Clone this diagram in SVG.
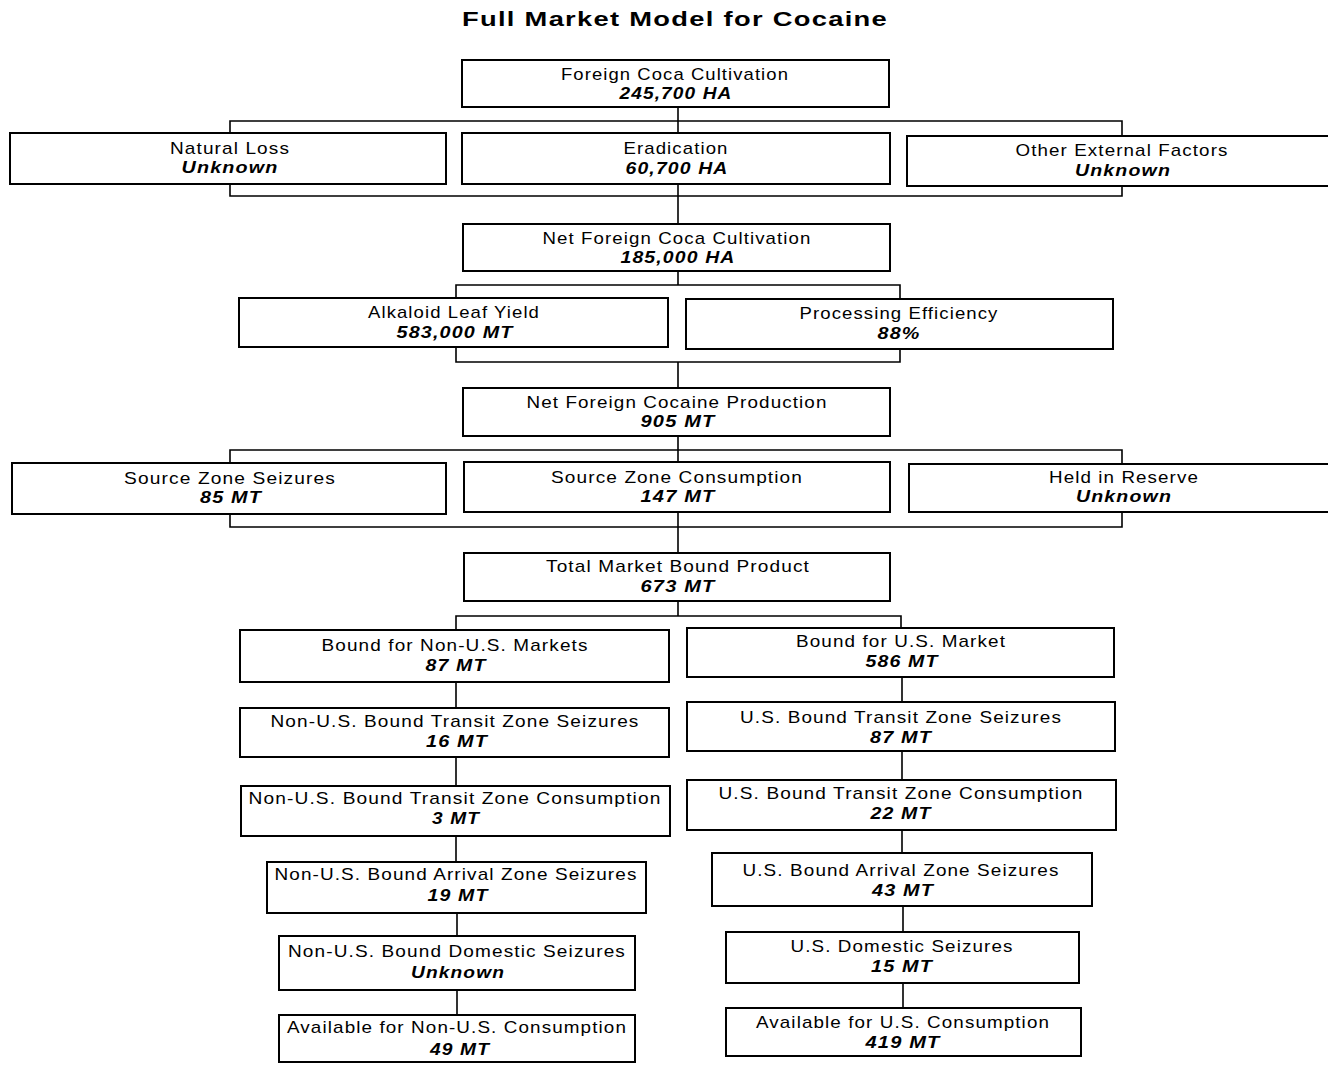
<svg xmlns="http://www.w3.org/2000/svg" width="1328" height="1065" viewBox="0 0 1328 1065">
<style>
.box{fill:#fff;stroke:#000;stroke-width:2}
.c{fill:none;stroke:#000;stroke-width:1.6}
text{font-family:"Liberation Sans",Arial,sans-serif;font-size:17px;letter-spacing:1px;text-anchor:middle;fill:#000}
.v{font-weight:bold;font-style:italic;font-size:17px}
.title{font-weight:bold;font-size:21px}
</style>
<rect width="1328" height="1065" fill="#fff"/>
<text class="title" x="675" y="26" textLength="426" lengthAdjust="spacingAndGlyphs">Full Market Model for Cocaine</text>
<g id="connectors">
<path class="c" d="M678,107 V225"/>
<path class="c" d="M230,133 V121 H1122 V136 M230,184 V196 H1122 V186"/>
<path class="c" d="M678,271 V285 M456,298 V285 H900 V299 M456,347 V362 H900 V349 M678,362 V388"/>
<path class="c" d="M678,436 V553"/>
<path class="c" d="M230,463 V450 H1122 V464 M230,514 V527 H1122 V512"/>
<path class="c" d="M678,601 V616 M456,630 V616 H901 V628"/>
<path class="c" d="M456,682 V708 M456,757 V786 M456,836 V862 M457,913 V936 M457,990 V1015"/>
<path class="c" d="M902,677 V702 M902,751 V780 M902,830 V853 M903,906 V932 M903,983 V1008"/>
</g>
<g id="foreign-coca"><rect class="box" x="462" y="60" width="427" height="47"/><text x="675" y="80" textLength="228" lengthAdjust="spacingAndGlyphs">Foreign Coca Cultivation</text><text class="v" x="676" y="99" textLength="113" lengthAdjust="spacingAndGlyphs">245,700 HA</text></g>
<g id="natural-loss"><rect class="box" x="10" y="133" width="436" height="51"/><text x="230" y="154" textLength="120" lengthAdjust="spacingAndGlyphs">Natural Loss</text><text class="v" x="230" y="173" textLength="97" lengthAdjust="spacingAndGlyphs">Unknown</text></g>
<g id="eradication"><rect class="box" x="462" y="133" width="428" height="51"/><text x="676" y="154" textLength="105" lengthAdjust="spacingAndGlyphs">Eradication</text><text class="v" x="677" y="174" textLength="103" lengthAdjust="spacingAndGlyphs">60,700 HA</text></g>
<g id="other-external"><rect class="box" x="907" y="136" width="430" height="50"/><text x="1122" y="156" textLength="213" lengthAdjust="spacingAndGlyphs">Other External Factors</text><text class="v" x="1123" y="176" textLength="96" lengthAdjust="spacingAndGlyphs">Unknown</text></g>
<g id="net-coca"><rect class="box" x="463" y="224" width="427" height="47"/><text x="677" y="244" textLength="269" lengthAdjust="spacingAndGlyphs">Net Foreign Coca Cultivation</text><text class="v" x="678" y="263" textLength="115" lengthAdjust="spacingAndGlyphs">185,000 HA</text></g>
<g id="alkaloid"><rect class="box" x="239" y="298" width="429" height="49"/><text x="454" y="318" textLength="172" lengthAdjust="spacingAndGlyphs">Alkaloid Leaf Yield</text><text class="v" x="455" y="338" textLength="117" lengthAdjust="spacingAndGlyphs">583,000 MT</text></g>
<g id="processing"><rect class="box" x="686" y="299" width="427" height="50"/><text x="899" y="319" textLength="199" lengthAdjust="spacingAndGlyphs">Processing Efficiency</text><text class="v" x="899" y="339" textLength="43" lengthAdjust="spacingAndGlyphs">88%</text></g>
<g id="net-cocaine"><rect class="box" x="463" y="388" width="427" height="48"/><text x="677" y="408" textLength="301" lengthAdjust="spacingAndGlyphs">Net Foreign Cocaine Production</text><text class="v" x="678" y="427" textLength="75" lengthAdjust="spacingAndGlyphs">905 MT</text></g>
<g id="source-seizures"><rect class="box" x="12" y="463" width="434" height="51"/><text x="230" y="484" textLength="212" lengthAdjust="spacingAndGlyphs">Source Zone Seizures</text><text class="v" x="231" y="503" textLength="62" lengthAdjust="spacingAndGlyphs">85 MT</text></g>
<g id="source-consumption"><rect class="box" x="464" y="462" width="426" height="50"/><text x="677" y="483" textLength="252" lengthAdjust="spacingAndGlyphs">Source Zone Consumption</text><text class="v" x="678" y="502" textLength="75" lengthAdjust="spacingAndGlyphs">147 MT</text></g>
<g id="held-reserve"><rect class="box" x="909" y="464" width="428" height="48"/><text x="1124" y="483" textLength="150" lengthAdjust="spacingAndGlyphs">Held in Reserve</text><text class="v" x="1124" y="502" textLength="96" lengthAdjust="spacingAndGlyphs">Unknown</text></g>
<g id="total-market"><rect class="box" x="464" y="553" width="426" height="48"/><text x="678" y="572" textLength="264" lengthAdjust="spacingAndGlyphs">Total Market Bound Product</text><text class="v" x="678" y="592" textLength="75" lengthAdjust="spacingAndGlyphs">673 MT</text></g>
<g id="non-us-markets"><rect class="box" x="240" y="630" width="429" height="52"/><text x="455" y="651" textLength="267" lengthAdjust="spacingAndGlyphs">Bound for Non-U.S. Markets</text><text class="v" x="456" y="671" textLength="61" lengthAdjust="spacingAndGlyphs">87 MT</text></g>
<g id="us-market"><rect class="box" x="687" y="628" width="427" height="49"/><text x="901" y="647" textLength="210" lengthAdjust="spacingAndGlyphs">Bound for U.S. Market</text><text class="v" x="902" y="667" textLength="73" lengthAdjust="spacingAndGlyphs">586 MT</text></g>
<g id="non-us-transit-seizures"><rect class="box" x="240" y="708" width="429" height="49"/><text x="455" y="727" textLength="369" lengthAdjust="spacingAndGlyphs">Non-U.S. Bound Transit Zone Seizures</text><text class="v" x="457" y="747" textLength="62" lengthAdjust="spacingAndGlyphs">16 MT</text></g>
<g id="us-transit-seizures"><rect class="box" x="687" y="702" width="428" height="49"/><text x="901" y="723" textLength="322" lengthAdjust="spacingAndGlyphs">U.S. Bound Transit Zone Seizures</text><text class="v" x="901" y="743" textLength="62" lengthAdjust="spacingAndGlyphs">87 MT</text></g>
<g id="non-us-transit-consumption"><rect class="box" x="241" y="786" width="429" height="50"/><text x="455" y="804" textLength="413" lengthAdjust="spacingAndGlyphs">Non-U.S. Bound Transit Zone Consumption</text><text class="v" x="456" y="824" textLength="48" lengthAdjust="spacingAndGlyphs">3 MT</text></g>
<g id="us-transit-consumption"><rect class="box" x="687" y="780" width="429" height="50"/><text x="901" y="799" textLength="365" lengthAdjust="spacingAndGlyphs">U.S. Bound Transit Zone Consumption</text><text class="v" x="901" y="819" textLength="61" lengthAdjust="spacingAndGlyphs">22 MT</text></g>
<g id="non-us-arrival"><rect class="box" x="267" y="862" width="379" height="51"/><text x="456" y="880" textLength="363" lengthAdjust="spacingAndGlyphs">Non-U.S. Bound Arrival Zone Seizures</text><text class="v" x="458" y="901" textLength="61" lengthAdjust="spacingAndGlyphs">19 MT</text></g>
<g id="us-arrival"><rect class="box" x="712" y="853" width="380" height="53"/><text x="901" y="876" textLength="317" lengthAdjust="spacingAndGlyphs">U.S. Bound Arrival Zone Seizures</text><text class="v" x="903" y="896" textLength="62" lengthAdjust="spacingAndGlyphs">43 MT</text></g>
<g id="non-us-domestic"><rect class="box" x="279" y="936" width="356" height="54"/><text x="457" y="957" textLength="338" lengthAdjust="spacingAndGlyphs">Non-U.S. Bound Domestic Seizures</text><text class="v" x="458" y="978" textLength="94" lengthAdjust="spacingAndGlyphs">Unknown</text></g>
<g id="us-domestic"><rect class="box" x="726" y="932" width="353" height="51"/><text x="902" y="952" textLength="223" lengthAdjust="spacingAndGlyphs">U.S. Domestic Seizures</text><text class="v" x="902" y="972" textLength="62" lengthAdjust="spacingAndGlyphs">15 MT</text></g>
<g id="non-us-available"><rect class="box" x="279" y="1015" width="356" height="47"/><text x="457" y="1033" textLength="340" lengthAdjust="spacingAndGlyphs">Available for Non-U.S. Consumption</text><text class="v" x="460" y="1055" textLength="60" lengthAdjust="spacingAndGlyphs">49 MT</text></g>
<g id="us-available"><rect class="box" x="726" y="1008" width="355" height="48"/><text x="903" y="1028" textLength="294" lengthAdjust="spacingAndGlyphs">Available for U.S. Consumption</text><text class="v" x="903" y="1048" textLength="75" lengthAdjust="spacingAndGlyphs">419 MT</text></g>
</svg>
